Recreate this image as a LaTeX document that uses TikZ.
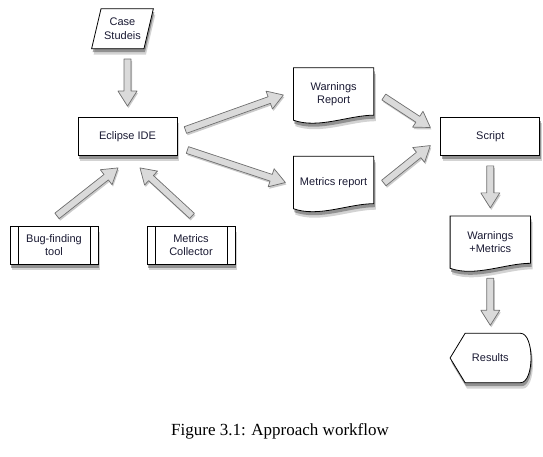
\documentclass[tikz,border=0pt]{standalone}
\usepackage{fontspec}
\setmainfont{Liberation Serif}
\setsansfont{Liberation Sans}
\usetikzlibrary{positioning,calc,shapes.geometric,shadows}
\pgfdeclarelayer{background}
\pgfsetlayers{background,main}

\definecolor{arrowgray}{HTML}{DADADA}
\definecolor{edgegray}{HTML}{6E6E6E}
\definecolor{labelink}{HTML}{1A1A33}
\definecolor{shadegray}{HTML}{505050}

\tikzset{
  boxshadow/.style={
    drop shadow={shadow xshift=2pt,shadow yshift=-6pt,fill=shadegray,opacity=0.25},
    drop shadow={shadow xshift=1pt,shadow yshift=-3.5pt,fill=shadegray,opacity=0.5}},
  labeltext/.style={font=\sffamily\fontsize{11}{13.5}\selectfont, text=labelink, align=center},
  box/.style={labeltext, draw=black, fill=white, line width=0.8pt,
    minimum width=99pt, minimum height=38pt, boxshadow},
  toolbox/.style={box, minimum width=88pt,
    path picture={
      \draw[line width=0.8pt] ([xshift=8pt]path picture bounding box.north west) -- ([xshift=8pt]path picture bounding box.south west);
      \draw[line width=0.8pt] ([xshift=-8pt]path picture bounding box.north east) -- ([xshift=-8pt]path picture bounding box.south east);
    }},
  inputbox/.style={box, trapezium, trapezium left angle=70, trapezium right angle=110,
    trapezium stretches=true, minimum width=62pt, minimum height=40pt, inner sep=1pt},
  docnode/.style={labeltext, minimum width=80pt, minimum height=52pt, inner sep=2pt},
  resultnode/.style={labeltext, minimum width=80pt, minimum height=49pt, inner sep=2pt},
  docshape/.style={draw=black, fill=white, line width=0.8pt, boxshadow},
  flowarrow/.style={draw=edgegray, fill=arrowgray, line width=0.7pt, line join=round,
    drop shadow={shadow xshift=1pt,shadow yshift=-2pt,fill=shadegray,opacity=0.3}}
}

% block arrow between two points
\newcommand{\flowarrow}[2]{%
  \path[flowarrow] let \p1=#1, \p2=#2,
    \n1={atan2(\y2-\y1,\x2-\x1)}, \n2={veclen(\x2-\x1,\y2-\y1)} in
    [shift={(\p1)}, rotate=\n1]
    (0pt,-3.5pt) -- (\n2-15pt,-3.5pt) -- (\n2-15pt,-9.5pt) -- (\n2+0pt,0pt)
    -- (\n2-15pt,9.5pt) -- (\n2-15pt,3.5pt) -- (0pt,3.5pt) -- cycle;
}

\begin{document}
\begin{tikzpicture}[x=1pt,y=-1pt]
  \useasboundingbox (0,0) rectangle (543,457);

  \node[box] (ide) at (127.5,136.5) {Eclipse IDE};
  \node[inputbox, above=68pt of ide, xshift=-5pt] (case) {Case\\Studeis};
  \node[toolbox, below=70pt of ide, xshift=-73.5pt] (bug) {Bug-finding\\tool};
  \node[toolbox, below=70pt of ide, xshift=63.5pt] (coll) {Metrics\\Collector};
  \node[docnode, right=116pt of ide, yshift=42.5pt] (warn) {Warnings\\Report};
  \node[docnode, right=116pt of ide, yshift=-46pt] (met) {Metrics report};
  \node[box, right=263pt of ide] (script) {Script};
  \node[docnode, below=60pt of script] (wm) {Warnings\\+Metrics};
  \node[resultnode, below=65pt of wm] (res) {Results};

  \node[font=\rmfamily\fontsize{17}{20}\selectfont] (caption) at (280,431) {Figure 3.1: Approach workflow};

  \begin{pgfonlayer}{background}
    \foreach \d in {warn,met,wm}
      \draw[docshape] (\d.north west) -- (\d.north east) -- ($(\d.south east)+(0,-5)$)
        .. controls ($(\d.south east)+(-25,-5)$) and ($(\d.south west)+(25,9)$) .. (\d.south west) -- cycle;
    \draw[docshape] ($(res.north west)+(15,0)$) -- ($(res.north east)+(-10,0)$)
      .. controls ($(res.north east)+(4,0)$) and ($(res.south east)+(4,0)$) .. ($(res.south east)+(-10,0)$)
      -- ($(res.south west)+(15,0)$) -- (res.west) -- cycle;
  \end{pgfonlayer}

  \flowarrow{($(case.south -| ide.north)+(0,10)$)}{($(ide.north)+(0,-11)$)}
  \flowarrow{($(bug.north)+(3,-10)$)}{($(ide.south)+(-9.5,12)$)}
  \flowarrow{($(coll.north)+(1,-10)$)}{($(ide.south)+(12.5,12)$)}
  \flowarrow{($(ide.east)+(8,-6.5)$)}{($(warn.west)+(-10,1)$)}
  \flowarrow{($(ide.east)+(10,13.5)$)}{($(met.west)+(-8,0)$)}
  \flowarrow{($(warn.east)+(10,3)$)}{($(script.west)+(-10,-9)$)}
  \flowarrow{($(met.east)+(10,0.5)$)}{($(script.west)+(-10,9)$)}
  \flowarrow{($(script.south)+(0,10)$)}{($(wm.north)+(0,-8)$)}
  \flowarrow{($(wm.south)+(0,10)$)}{($(res.north)+(0,-8)$)}
\end{tikzpicture}
\end{document}
